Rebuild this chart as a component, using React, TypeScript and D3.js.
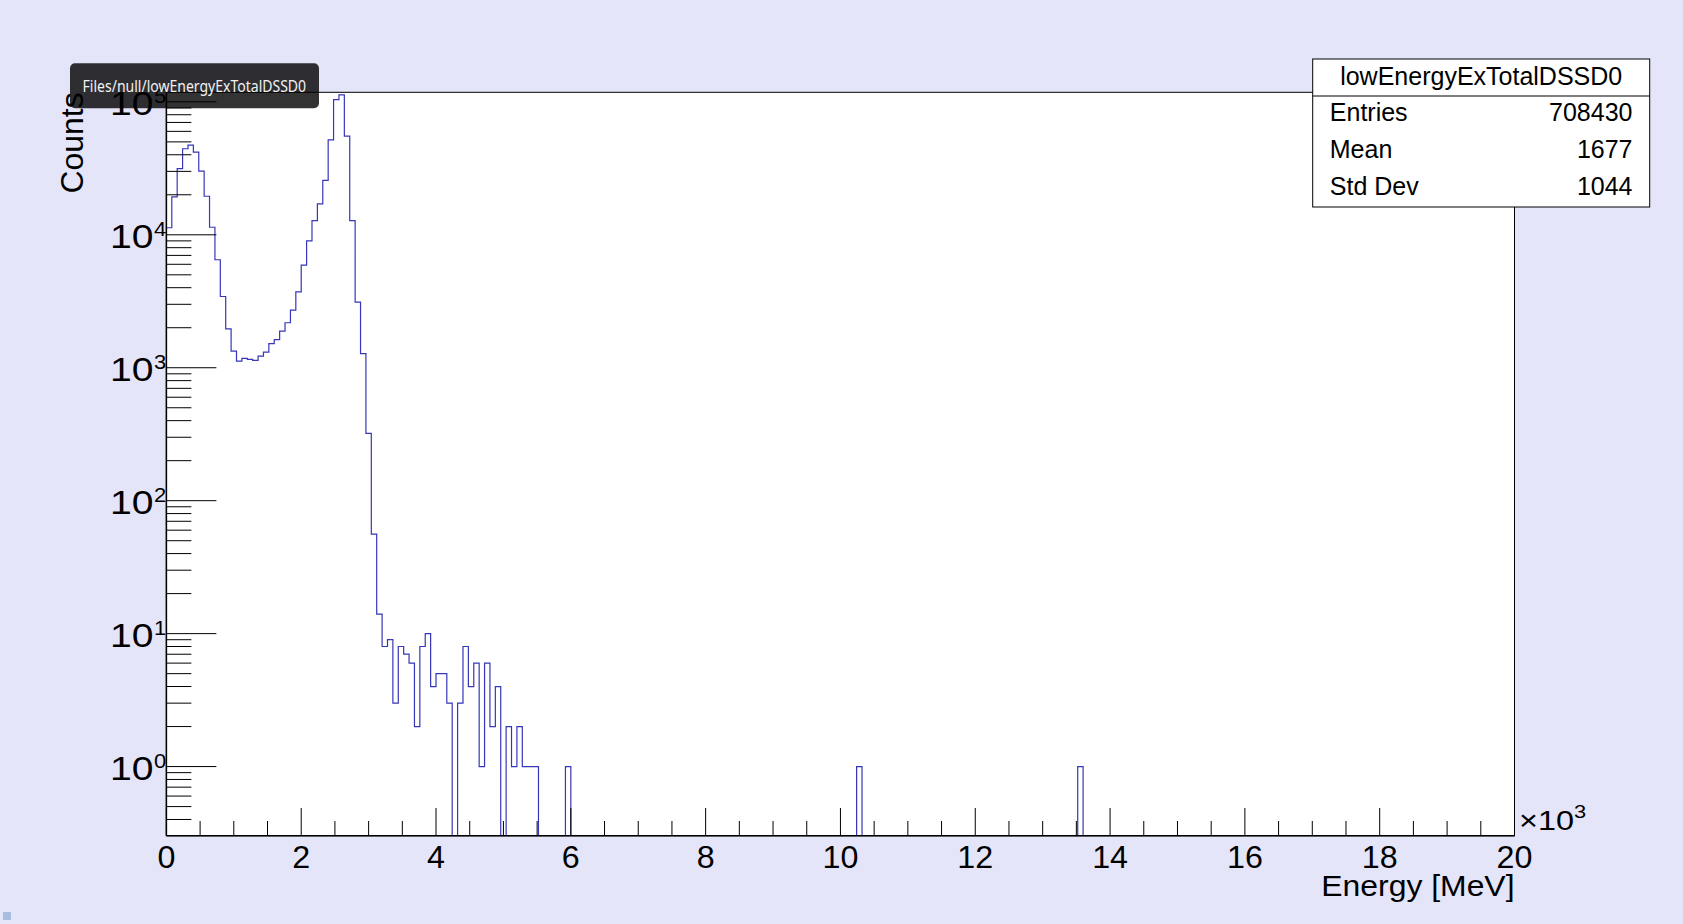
import React from 'react';
import * as d3 from 'd3';

const W = 1683;
const H = 924;
const frame = { left: 166.4, right: 1514.5, top: 92.3, bottom: 835.7 };
const font = '"Liberation Sans", Arial, Helvetica, sans-serif';

// 250 bins of 80 keV from 0 to 20000 keV
const binWidth = 80;
const nBins = 250;
const lowBinCounts = [
  11300, 19300, 31500, 44400, 47200, 41800, 30100, 19500, 11400, 6490,
  3436, 1963, 1334, 1122, 1175, 1155, 1135, 1225, 1312, 1517,
  1625, 1887, 2180, 2710, 3726, 5910, 9010, 12800, 17100, 25700,
  51800, 104000, 113000, 55200, 12800, 3120, 1275, 321, 56, 14,
  8, 9, 3, 8, 7, 6, 2, 8, 10, 4,
  5, 5, 3, 0, 3, 8, 4, 6, 1, 6,
  2, 4, 0, 2, 1, 2, 1, 1, 1, 0,
  0, 0, 0, 0, 1,
];
const isolatedHits: [number, number][] = [[128, 1], [169, 1]];

const xMajorTicks = [0, 2, 4, 6, 8, 10, 12, 14, 16, 18, 20];
const xMinorStep = 0.5;
const yDecades = [0, 1, 2, 3, 4, 5];
const statsTitle = 'lowEnergyExTotalDSSD0';
const statsRows = [
  ['Entries', '708430'],
  ['Mean', '1677'],
  ['Std Dev', '1044'],
];

const App: React.FC = () => {
  const counts = Array.from({ length: nBins }, (_, i) => lowBinCounts[i] ?? 0);
  isolatedHits.forEach(([i, c]) => (counts[i] = c));

  const x = d3.scaleLinear().domain([0, nBins * binWidth]).range([frame.left, frame.right]);
  const xk = d3.scaleLinear().domain([0, 20]).range([frame.left, frame.right]);
  const y = d3.scaleLog().domain([0.302, 1.18e5]).range([frame.bottom, frame.top]);

  const yOf = (c: number) => (c > 0 ? y(c) : frame.bottom + 1);
  const pts: [number, number][] = counts.map((c, i) => [x(i * binWidth), yOf(c)]);
  pts.push([x(nBins * binWidth), yOf(counts[nBins - 1])]);
  const step = d3.line().curve(d3.curveStepAfter)(pts) || '';

  const xMinor = d3.range(0, 20 + 1e-9, xMinorStep).filter((v) => !xMajorTicks.includes(v));
  const yMinor: number[] = [];
  for (let k = -1; k <= 5; k++) {
    for (let m = 2; m <= 9; m++) {
      const v = m * Math.pow(10, k);
      const [lo, hi] = y.domain();
      if (v > lo && v < hi) yMinor.push(v);
    }
  }

  const box = { x0: 1312.7, x1: 1649.7, y0: 59, y1: 207 };
  const rowH = (box.y1 - box.y0) / 4;

  return (
    <div style={{ position: 'fixed', left: 0, top: 0, width: W, height: H }}>
      <svg width={W} height={H} style={{ display: 'block', fontFamily: font }}>
        <defs>
          <clipPath id="frameClip">
            <rect x={frame.left} y={frame.top} width={frame.right - frame.left} height={frame.bottom - frame.top} />
          </clipPath>
        </defs>
        <rect x={0} y={0} width={W} height={H} fill="#e5e5f9" />
        <rect x={frame.left} y={frame.top} width={frame.right - frame.left} height={frame.bottom - frame.top}
          fill="#ffffff" stroke="#000" strokeWidth={1} />

        <path d={step} fill="none" stroke="#3636b8" strokeWidth={1.2} clipPath="url(#frameClip)" />

        {/* x axis */}
        <line x1={frame.left} x2={frame.right} y1={frame.bottom} y2={frame.bottom} stroke="#000" strokeWidth={1.5} />
        {xMajorTicks.map((t) => (
          <line key={'xM' + t} x1={xk(t)} x2={xk(t)} y1={frame.bottom} y2={frame.bottom - 27.7} stroke="#000" />
        ))}
        {xMinor.map((t) => (
          <line key={'xm' + t} x1={xk(t)} x2={xk(t)} y1={frame.bottom} y2={frame.bottom - 14.7} stroke="#000" />
        ))}
        {xMajorTicks.map((t) => (
          <text key={'xl' + t} transform={`translate(${xk(t)},868) scale(1.04,1)`} textAnchor="middle" fontSize={31}>
            {t}
          </text>
        ))}
        <text transform="translate(1519,830) scale(1.2,1)" fontSize={27}>×10</text>
        <text transform="translate(1574,818) scale(1.15,1)" fontSize={19}>3</text>
        <text transform={`translate(${frame.right},896) scale(1.1,1)`} textAnchor="end" fontSize={29}>
          Energy [MeV]
        </text>

        {/* y axis */}
        <line x1={frame.left} x2={frame.left} y1={frame.top} y2={frame.bottom} stroke="#000" strokeWidth={1.5} />
        {yDecades.map((k) => (
          <line key={'yM' + k} x1={frame.left} x2={frame.left + 50} y1={y(Math.pow(10, k))} y2={y(Math.pow(10, k))} stroke="#000" />
        ))}
        {yMinor.map((v) => (
          <line key={'ym' + v} x1={frame.left} x2={frame.left + 25} y1={y(v)} y2={y(v)} stroke="#000" />
        ))}
        {yDecades.map((k) => {
          const ty = y(Math.pow(10, k));
          return (
            <g key={'yl' + k}>
              <text transform={`translate(153.5,${ty + 13.5}) scale(1.15,1)`} textAnchor="end" fontSize={34}>10</text>
              <text transform={`translate(154,${ty + 1.5}) scale(1.1,1)`} fontSize={20}>{k}</text>
            </g>
          );
        })}
        <text transform="translate(83,92.3) rotate(-90) scale(1.03,1)" textAnchor="end" fontSize={31}>Counts</text>

        {/* stats box */}
        <rect x={box.x0} y={box.y0} width={box.x1 - box.x0} height={box.y1 - box.y0} fill="#fff" stroke="#000" strokeWidth={1} />
        <line x1={box.x0} x2={box.x1} y1={box.y0 + rowH} y2={box.y0 + rowH} stroke="#000" strokeWidth={1} />
        <text x={(box.x0 + box.x1) / 2} y={box.y0 + rowH / 2 + 7} textAnchor="middle" fontSize={25}>{statsTitle}</text>
        {statsRows.map(([label, val], i) => {
          const by = box.y0 + rowH * (i + 1.5) + 6.5;
          return (
            <g key={label}>
              <text x={1329.8} y={by} fontSize={25}>{label}</text>
              <text x={1632.5} y={by} textAnchor="end" fontSize={25}>{val}</text>
            </g>
          );
        })}

        {/* hover tooltip */}
        <rect x={70} y={63.3} width={249} height={45} rx={5} fill="#000" fillOpacity={0.8} />
        <text x={82.6} y={91.5} fontSize={17} fill="#f2f2f2" textLength={223.5} lengthAdjust="spacingAndGlyphs"
          style={{ fontFamily: '"Noto Sans", sans-serif' }}>
          Files/null/lowEnergyExTotalDSSD0
        </text>

        <rect x={3} y={912} width={8} height={8} fill="#a9bde2" />
      </svg>
    </div>
  );
};

export default App;
